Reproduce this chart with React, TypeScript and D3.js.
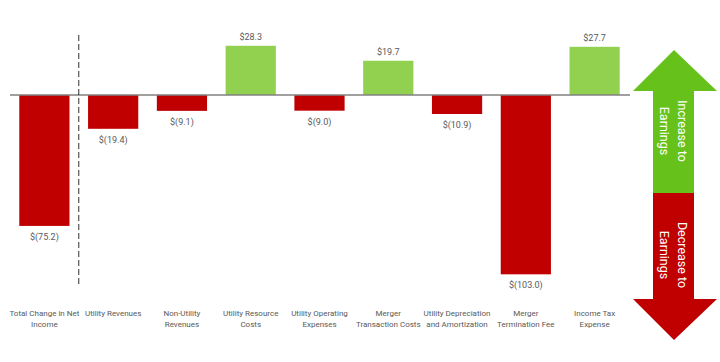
import React from "react";
import * as d3 from "d3";

// categories (two-line labels) and values, $ millions
const categories = [
  "Total Change in Net Income",
  "Utility Revenues",
  "Non-Utility Revenues",
  "Utility Resource Costs",
  "Utility Operating Expenses",
  "Merger Transaction Costs",
  "Utility Depreciation and Amortization",
  "Merger Termination Fee",
  "Income Tax Expense",
];
const labelLines = [
  ["Total Change in Net", "Income"],
  ["Utility Revenues"],
  ["Non-Utility", "Revenues"],
  ["Utility Resource", "Costs"],
  ["Utility Operating", "Expenses"],
  ["Merger", "Transaction Costs"],
  ["Utility Depreciation", "and Amortization"],
  ["Merger", "Termination Fee"],
  ["Income Tax", "Expense"],
];
const values = [-75.2, -19.4, -9.1, 28.3, -9.0, 19.7, -10.9, -103.0, 27.7];

const W = 720;
const H = 362;
const FONT = "Roboto, Open Sans, sans-serif";
const RED = "#c00000";
const GREEN = "#92d050";
const ARROW_GREEN = "#66c21a";

const fmt = (v: number) =>
  v < 0 ? `$(${Math.abs(v).toFixed(1)})` : `$${v.toFixed(1)}`;

export default function App() {
  const x = d3
    .scaleBand<string>()
    .domain(categories)
    .range([10, 629])
    .paddingInner(0.27)
    .paddingOuter(0.135);
  const y = d3.scaleLinear().domain([-110, 40]).range([286.5, 25.4]);
  const y0 = y(0);

  // divider between total and the drivers
  const divX = (x(categories[0])! + x.bandwidth() + x(categories[1])!) / 2;

  // double arrow on the right
  const ax = 674;
  const upArrow = `M${ax},50 L717,91 L694,91 L694,193 L653,193 L653,91 L633,91 Z`;
  const downArrow = `M653,193 L694,193 L694,299 L717,299 L${ax},340 L633,299 L653,299 Z`;

  return (
    <svg
      width={W}
      height={H}
      style={{ position: "absolute", left: 0, top: 0, background: "#fff" }}
      fontFamily={FONT}
    >
      {values.map((v, i) => {
        const c = categories[i];
        const bx = x(c)!;
        const top = v >= 0 ? y(v) : y0;
        const h = Math.abs(y(v) - y0);
        return (
          <g key={c}>
            <rect x={bx} y={top} width={x.bandwidth()} height={h} fill={v >= 0 ? GREEN : RED} />
            <text
              x={bx + x.bandwidth() / 2}
              y={v >= 0 ? y(v) - 6 : y(v) + 14}
              textAnchor="middle"
              fontSize={9}
              fill="#595959"
            >
              {fmt(v)}
            </text>
          </g>
        );
      })}

      <line x1={10} x2={630} y1={y0} y2={y0} stroke="#808080" strokeWidth={1.5} />

      <line
        x1={divX}
        x2={divX}
        y1={35}
        y2={284}
        stroke="#303030"
        strokeWidth={1}
        strokeDasharray="6,3"
      />

      {labelLines.map((lines, i) => (
        <text
          key={categories[i]}
          x={x(categories[i])! + x.bandwidth() / 2}
          y={316}
          textAnchor="middle"
          fontSize={8}
          fill="#595959"
        >
          {lines.map((l, j) => (
            <tspan key={j} x={x(categories[i])! + x.bandwidth() / 2} dy={j === 0 ? 0 : 11}>
              {l}
            </tspan>
          ))}
        </text>
      ))}

      <path d={upArrow} fill={ARROW_GREEN} />
      <path d={downArrow} fill={RED} />

      <text
        transform={`translate(${ax},${131}) rotate(90)`}
        textAnchor="middle"
        fontSize={12.5}
        fill="#fff"
      >
        <tspan x={0} dy={-4}>Increase to</tspan>
        <tspan x={0} dy={18}>Earnings</tspan>
      </text>
      <text
        transform={`translate(${ax},${255}) rotate(90)`}
        textAnchor="middle"
        fontSize={12.5}
        fill="#fff"
      >
        <tspan x={0} dy={-4}>Decrease to</tspan>
        <tspan x={0} dy={18}>Earnings</tspan>
      </text>
    </svg>
  );
}
